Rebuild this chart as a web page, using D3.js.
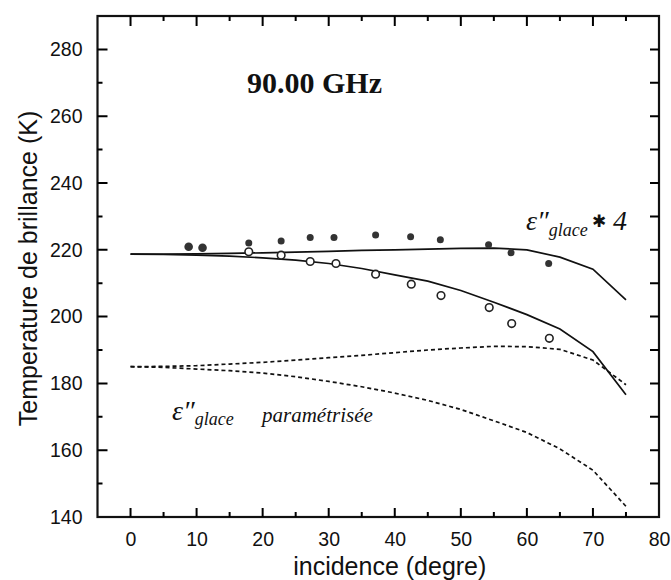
<!DOCTYPE html>
<html>
<head>
<meta charset="utf-8">
<script src="https://cdn.jsdelivr.net/npm/d3@7"></script>
<style>
  html, body { margin: 0; padding: 0; background: #fff; }
  svg { display: block; }
</style>
</head>
<body>
<svg id="chart" width="671" height="580"></svg>
<script>
// ---- data ----
const angles = [0, 5, 10, 15, 20, 25, 30, 35, 40, 45, 50, 55, 60, 65, 70, 75];
const modelIce4Upper   = [218.7, 218.7, 218.8, 218.9, 219.1, 219.3, 219.5, 219.8, 220.0, 220.2, 220.4, 220.5, 220.0, 217.8, 214.2, 205.0];
const modelIce4Lower   = [218.7, 218.6, 218.4, 218.1, 217.6, 216.9, 215.9, 214.4, 212.5, 210.6, 207.8, 204.3, 200.6, 196.3, 189.5, 176.6];
const modelParamUpper  = [185.0, 185.1, 185.3, 185.8, 186.3, 187.0, 187.7, 188.4, 189.2, 190.0, 190.6, 191.1, 191.0, 190.2, 187.0, 179.6];
const modelParamLower  = [185.0, 184.8, 184.3, 183.8, 183.1, 182.0, 180.6, 179.0, 177.1, 174.9, 172.2, 168.8, 165.3, 160.4, 154.0, 143.2];

const filledX = [8.8, 10.9, 17.9, 22.8, 27.2, 30.8, 37.1, 42.4, 46.9, 54.2, 57.6, 63.3];
const filledY = [220.9, 220.6, 222.0, 222.6, 223.7, 223.7, 224.4, 223.9, 223.0, 221.5, 219.1, 215.9];
const openX   = [17.9, 22.8, 27.2, 31.1, 37.1, 42.5, 47.0, 54.3, 57.7, 63.4];
const openY   = [219.4, 218.4, 216.5, 215.9, 212.7, 209.7, 206.3, 202.7, 197.9, 193.5];

const xTicks = [0, 10, 20, 30, 40, 50, 60, 70, 80];
const xMinorTicks = [5, 15, 25, 35, 45, 55, 65, 75];
const yTicks = [140, 160, 180, 200, 220, 240, 260, 280];
const yMinorTicks = [150, 170, 190, 210, 230, 250, 270];
const yRightTicks = [150, 160, 170, 180, 190, 200, 210, 220, 230, 240, 250, 260, 270, 280];

const titleText = "90.00 GHz";
const xLabel = "incidence (degre)";
const yLabel = "Temperature de brillance (K)";

// ---- layout ----
const svg = d3.select("#chart");
const x = d3.scaleLinear().domain([-5, 80]).range([97.5, 659]);
const y = d3.scaleLinear().domain([140, 290]).range([517, 16]);
const L = x.range()[0], R = x.range()[1], T = y.range()[1], B = y.range()[0];

const tickFont = "Liberation Sans, Arial, sans-serif";
const ink = "#111";

// frame
svg.append("rect").attr("x", L).attr("y", T).attr("width", R - L).attr("height", B - T)
  .attr("fill", "none").attr("stroke", ink).attr("stroke-width", 2.2);

// tick marks (inward)
function vTickPath(vals, y0, len) {
  return vals.map(d => `M${x(d)},${y0}V${y0 + len}`).join("");
}
function hTickPath(vals, x0, len) {
  return vals.map(d => `M${x0},${y(d)}H${x0 + len}`).join("");
}
const tickPaths = [
  vTickPath(xTicks.filter(d => d < 80), B, -9),
  vTickPath(xMinorTicks, B, -5),
  vTickPath(xTicks.filter(d => d < 80), T, 10),
  vTickPath(xMinorTicks, T, 5),
  hTickPath(yTicks.filter(d => d > 140), L, 10),
  hTickPath(yMinorTicks, L, 5),
  hTickPath(yRightTicks, R, -9)
];
svg.append("g").selectAll("path").data(tickPaths).join("path")
  .attr("d", d => d).attr("fill", "none").attr("stroke", "#000").attr("stroke-width", 2);

// tick labels via axes
function styleAxis(g) {
  g.select(".domain").remove();
  g.selectAll("line").remove();
  g.selectAll("text").attr("fill", ink).style("font-family", tickFont).style("font-size", "19.5px");
}
svg.append("g").attr("transform", `translate(0,${B})`)
  .call(d3.axisBottom(x).tickValues(xTicks).tickSize(0).tickPadding(15).tickFormat(d3.format("d")))
  .call(styleAxis);
svg.append("g").attr("transform", `translate(${L},0)`)
  .call(d3.axisLeft(y).tickValues(yTicks).tickSize(0).tickPadding(15).tickFormat(d3.format("d")))
  .call(styleAxis);

// axis titles
svg.append("text").attr("x", (x(0) + x(80)) / 2 - 5).attr("y", 575)
  .attr("text-anchor", "middle").style("font-family", tickFont).style("font-size", "25px")
  .attr("fill", ink).text(xLabel);
svg.append("text").attr("transform", `translate(37,${(T + B) / 2 + 2}) rotate(-90)`)
  .attr("text-anchor", "middle").style("font-family", tickFont).style("font-size", "25px")
  .attr("fill", ink).text(yLabel);

// title
svg.append("text").attr("x", 247).attr("y", 93)
  .style("font-family", "Liberation Serif, Times New Roman, serif").style("font-weight", "bold")
  .style("font-size", "30px").attr("fill", ink).text(titleText);

// lines
const line = d3.line().x((d, i) => x(angles[i])).y(d => y(d));
function drawLine(vals, dashed) {
  svg.append("path").datum(vals).attr("d", line).attr("fill", "none")
    .attr("stroke", ink).attr("stroke-width", 1.7)
    .attr("stroke-dasharray", dashed ? "4,3" : null);
}
drawLine(modelIce4Upper, false);
drawLine(modelIce4Lower, false);
drawLine(modelParamUpper, true);
drawLine(modelParamLower, true);

// points
svg.append("g").selectAll("circle").data(filledX).join("circle")
  .attr("cx", d => x(d)).attr("cy", (d, i) => y(filledY[i]))
  .attr("r", (d, i) => i < 2 ? 4.3 : 3.5).attr("fill", "#333");
svg.append("g").selectAll("circle").data(openX).join("circle")
  .attr("cx", d => x(d)).attr("cy", (d, i) => y(openY[i]))
  .attr("r", 3.8).attr("fill", "#fff").attr("stroke", "#222").attr("stroke-width", 1.6);

// handwritten annotations
const handFont = "Liberation Serif, serif";
const a1 = svg.append("text").attr("x", 526).attr("y", 230)
  .style("font-family", handFont).style("font-style", "italic").attr("fill", ink);
a1.append("tspan").style("font-size", "28px").text("ε″");
a1.append("tspan").attr("dy", 6).style("font-size", "18px").text("glace");
a1.append("tspan").attr("dy", -9).style("font-size", "17px").style("font-style", "normal").text(" ✱");
a1.append("tspan").attr("dy", 3).style("font-size", "28px").text(" 4");

const a2 = svg.append("text").attr("x", 172).attr("y", 420)
  .style("font-family", handFont).style("font-style", "italic").attr("fill", ink);
a2.append("tspan").style("font-size", "28px").text("ε″");
a2.append("tspan").attr("dy", 5).style("font-size", "18px").text("glace");
a2.append("tspan").attr("x", 262).attr("dy", -3).style("font-size", "21px").text("paramétrisée");
</script>
</body>
</html>
